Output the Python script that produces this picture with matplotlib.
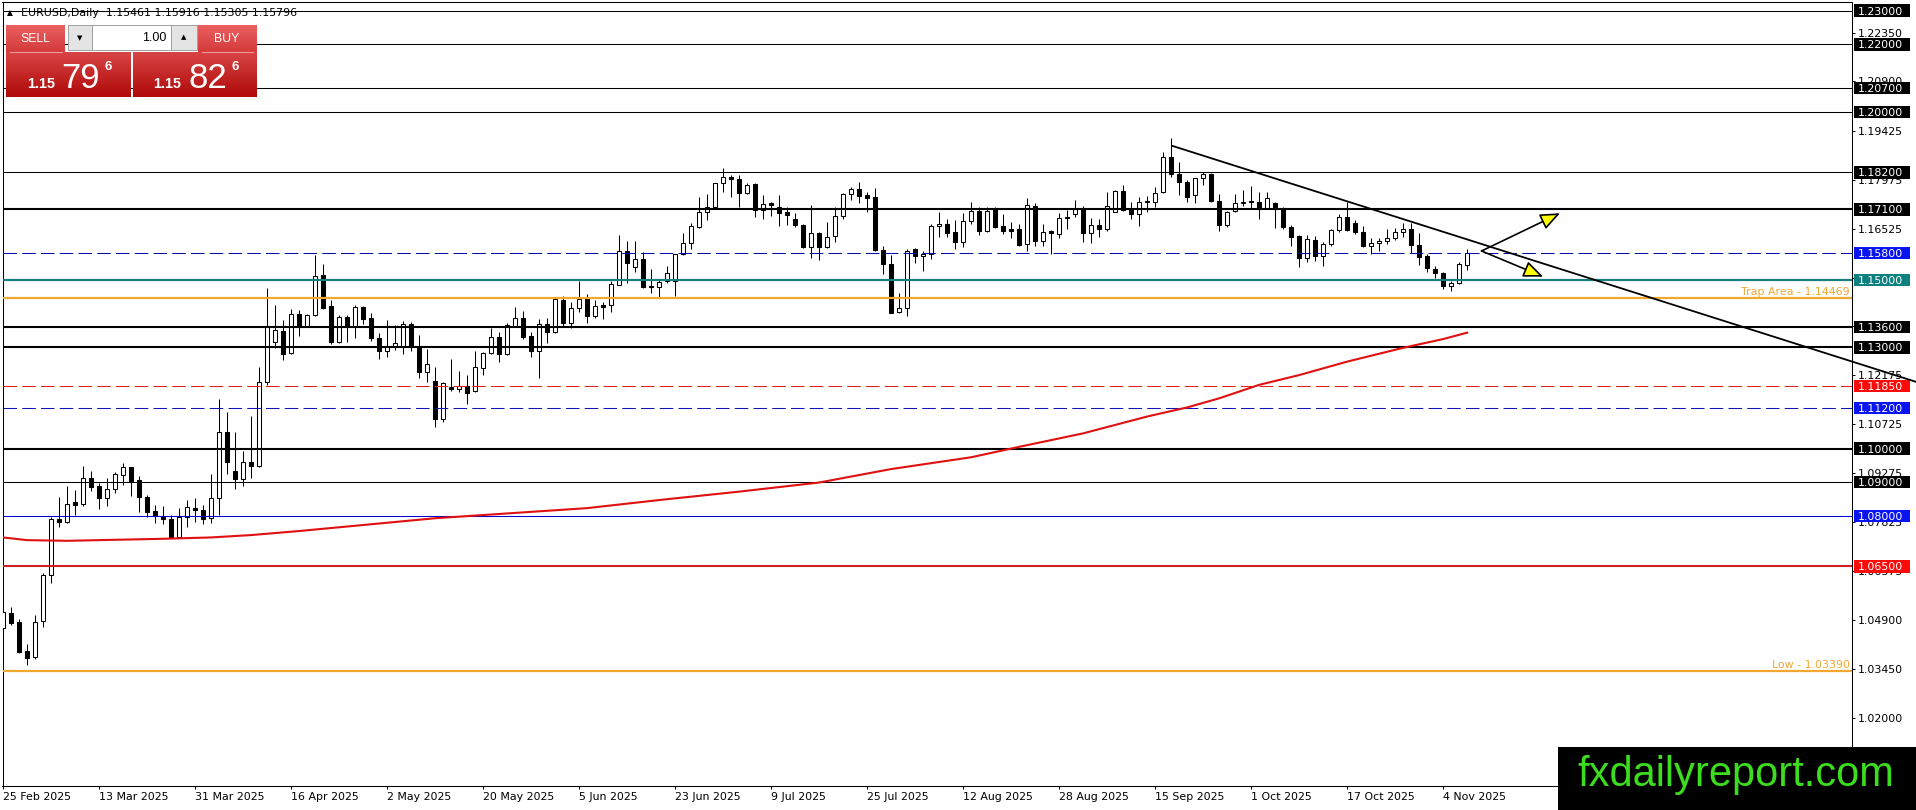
import numpy as np
import matplotlib
matplotlib.use("Agg")
import matplotlib.pyplot as plt
import matplotlib.transforms as mtransforms
from matplotlib.patches import Rectangle, FancyArrowPatch
from matplotlib.colors import LinearSegmentedColormap

# ---- data (EURUSD daily, 25 Feb 2025 .. 7 Nov 2025) ----
opens = [1.0466, 1.0511, 1.0484, 1.0399, 1.0380, 1.0488, 1.0625, 1.0792, 1.0783, 1.0841,
         1.0834, 1.0912, 1.0889, 1.0852, 1.0879, 1.0921, 1.0944, 1.0907, 1.0855, 1.0814,
         1.0798, 1.0790, 1.0736, 1.0796, 1.0823, 1.0816, 1.0793, 1.0852, 1.1050, 1.0933,
         1.0911, 1.0960, 1.0948, 1.1199, 1.1317, 1.1349, 1.1283, 1.1398, 1.1365, 1.1396,
         1.1515, 1.1423, 1.1317, 1.1390, 1.1365, 1.1420, 1.1387, 1.1327, 1.1291, 1.1300,
         1.1300, 1.1369, 1.1300, 1.1226, 1.1200, 1.1087, 1.1184, 1.1176, 1.1187, 1.1171,
         1.1238, 1.1283, 1.1330, 1.1280, 1.1365, 1.1387, 1.1334, 1.1291, 1.1369, 1.1345,
         1.1441, 1.1372, 1.1416, 1.1446, 1.1392, 1.1425, 1.1426, 1.1486, 1.1587, 1.1540,
         1.1563, 1.1483, 1.1479, 1.1496, 1.1496, 1.1578, 1.1609, 1.1659, 1.1701, 1.1718,
         1.1787, 1.1805, 1.1799, 1.1758, 1.1785, 1.1708, 1.1728, 1.1718, 1.1703, 1.1682,
         1.1664, 1.1599, 1.1639, 1.1597, 1.1632, 1.1691, 1.1755, 1.1770, 1.1753, 1.1748,
         1.1590, 1.1547, 1.1404, 1.1416, 1.1592, 1.1572, 1.1577, 1.1661, 1.1667, 1.1642,
         1.1614, 1.1676, 1.1705, 1.1646, 1.1713, 1.1661, 1.1651, 1.1651, 1.1606, 1.1721,
         1.1616, 1.1646, 1.1636, 1.1686, 1.1695, 1.1713, 1.1639, 1.1664, 1.1651, 1.1703,
         1.1765, 1.1711, 1.1695, 1.1733, 1.1731, 1.1761, 1.1867, 1.1814, 1.1790, 1.1753,
         1.1802, 1.1814, 1.1736, 1.1664, 1.1705, 1.1728, 1.1735, 1.1731, 1.1715, 1.1728,
         1.1713, 1.1659, 1.1631, 1.1565, 1.1619, 1.1572, 1.1606, 1.1649, 1.1687, 1.1669,
         1.1642, 1.1601, 1.1609, 1.1617, 1.1626, 1.1644, 1.1652, 1.1604, 1.1572, 1.1532,
         1.1520, 1.1483, 1.1490, 1.15461]
highs = [1.0521, 1.0529, 1.0493, 1.0419, 1.0506, 1.0630, 1.0798, 1.0857, 1.0889, 1.0877,
         1.0948, 1.0934, 1.0897, 1.0912, 1.0931, 1.0958, 1.0946, 1.0917, 1.0862, 1.0832,
         1.0829, 1.0803, 1.0823, 1.0847, 1.0852, 1.0831, 1.0924, 1.1146, 1.1108, 1.1050,
         1.0993, 1.1098, 1.1243, 1.1476, 1.1426, 1.1382, 1.1413, 1.1411, 1.1398, 1.1575,
         1.1547, 1.1440, 1.1396, 1.1396, 1.1426, 1.1424, 1.1401, 1.1342, 1.1382, 1.1367,
         1.1379, 1.1377, 1.1337, 1.1295, 1.1243, 1.1198, 1.1266, 1.1230, 1.1218, 1.1290,
         1.1286, 1.1359, 1.1345, 1.1372, 1.1421, 1.1408, 1.1347, 1.1385, 1.1387, 1.1451,
         1.1454, 1.1434, 1.1497, 1.1458, 1.1441, 1.1436, 1.1497, 1.1634, 1.1617, 1.1617,
         1.1583, 1.1533, 1.1501, 1.1543, 1.1578, 1.1641, 1.1669, 1.1748, 1.1756, 1.1789,
         1.1832, 1.1812, 1.1812, 1.1787, 1.1789, 1.1753, 1.1733, 1.1753, 1.1718, 1.1698,
         1.1667, 1.1723, 1.1644, 1.1674, 1.1716, 1.1760, 1.1776, 1.1790, 1.1763, 1.1773,
         1.1601, 1.1575, 1.1461, 1.1592, 1.1596, 1.1587, 1.1666, 1.1701, 1.1681, 1.1679,
         1.1698, 1.1731, 1.1718, 1.1718, 1.1718, 1.1695, 1.1674, 1.1666, 1.1743, 1.1728,
         1.1666, 1.1649, 1.1698, 1.1708, 1.1738, 1.1721, 1.1683, 1.1682, 1.1761, 1.1768,
         1.1782, 1.1733, 1.1748, 1.1751, 1.1777, 1.1880, 1.1921, 1.1850, 1.1797, 1.1804,
         1.1820, 1.1817, 1.1755, 1.1705, 1.1755, 1.1768, 1.1780, 1.1761, 1.1763, 1.1731,
         1.1718, 1.1664, 1.1634, 1.1634, 1.1631, 1.1614, 1.1652, 1.1696, 1.1731, 1.1679,
         1.1661, 1.1624, 1.1626, 1.1652, 1.1656, 1.1669, 1.1669, 1.1639, 1.1577, 1.1542,
         1.1523, 1.1498, 1.1553, 1.15916]
lows = [1.0456, 1.0476, 1.0394, 1.0357, 1.0375, 1.0471, 1.0602, 1.0766, 1.0780, 1.0803,
        1.0829, 1.0875, 1.0820, 1.0829, 1.0869, 1.0892, 1.0859, 1.0813, 1.0798, 1.0780,
        1.0776, 1.0733, 1.0734, 1.0766, 1.0783, 1.0776, 1.0780, 1.0803, 1.0924, 1.0879,
        1.0889, 1.0912, 1.0944, 1.1189, 1.1298, 1.1263, 1.1281, 1.1335, 1.1363, 1.1394,
        1.1415, 1.1309, 1.1312, 1.1315, 1.1329, 1.1369, 1.1319, 1.1266, 1.1273, 1.1293,
        1.1280, 1.1290, 1.1210, 1.1197, 1.1065, 1.1080, 1.1170, 1.1169, 1.1131, 1.1169,
        1.1218, 1.1280, 1.1256, 1.1278, 1.1362, 1.1325, 1.1273, 1.1210, 1.1312, 1.1343,
        1.1365, 1.1357, 1.1404, 1.1372, 1.1387, 1.1384, 1.1406, 1.1486, 1.1491, 1.1525,
        1.1476, 1.1461, 1.1451, 1.1492, 1.1454, 1.1575, 1.1591, 1.1654, 1.1679, 1.1716,
        1.1763, 1.1748, 1.1718, 1.1756, 1.1688, 1.1682, 1.1691, 1.1661, 1.1664, 1.1657,
        1.1594, 1.1565, 1.1560, 1.1594, 1.1614, 1.1681, 1.1738, 1.1730, 1.1703, 1.1585,
        1.1518, 1.1401, 1.1401, 1.1392, 1.1550, 1.1528, 1.1563, 1.1629, 1.1629, 1.1592,
        1.1599, 1.1666, 1.1634, 1.1644, 1.1654, 1.1636, 1.1624, 1.1602, 1.1585, 1.1602,
        1.1602, 1.1577, 1.1624, 1.1652, 1.1688, 1.1614, 1.1609, 1.1629, 1.1646, 1.1701,
        1.1705, 1.1682, 1.1662, 1.1701, 1.1718, 1.1758, 1.1807, 1.1753, 1.1731, 1.1728,
        1.1781, 1.1731, 1.1647, 1.1659, 1.1701, 1.1721, 1.1715, 1.1682, 1.1715, 1.1654,
        1.1652, 1.1600, 1.1540, 1.1553, 1.1557, 1.1543, 1.1602, 1.1642, 1.1645, 1.1637,
        1.1597, 1.1577, 1.1585, 1.1607, 1.1619, 1.1629, 1.1580, 1.1545, 1.1523, 1.1505,
        1.1473, 1.1468, 1.1488, 1.15305]
closes = [1.0516, 1.0483, 1.0397, 1.0377, 1.0486, 1.0625, 1.0790, 1.0783, 1.0834, 1.0833,
          1.0912, 1.0885, 1.0852, 1.0880, 1.0923, 1.0944, 1.0905, 1.0855, 1.0813, 1.0800,
          1.0790, 1.0736, 1.0796, 1.0827, 1.0817, 1.0790, 1.0852, 1.1050, 1.0961, 1.0911,
          1.0959, 1.0949, 1.1199, 1.1360, 1.1352, 1.1281, 1.1399, 1.1362, 1.1396, 1.1513,
          1.1418, 1.1317, 1.1390, 1.1362, 1.1420, 1.1385, 1.1327, 1.1291, 1.1300, 1.1312,
          1.1369, 1.1302, 1.1226, 1.1250, 1.1087, 1.1196, 1.1176, 1.1187, 1.1164, 1.1241,
          1.1283, 1.1330, 1.1280, 1.1367, 1.1387, 1.1332, 1.1291, 1.1369, 1.1347, 1.1444,
          1.1372, 1.1416, 1.1443, 1.1394, 1.1424, 1.1420, 1.1488, 1.1587, 1.1550, 1.1563,
          1.1479, 1.1479, 1.1494, 1.1522, 1.1578, 1.1609, 1.1661, 1.1701, 1.1718, 1.1787,
          1.1805, 1.1799, 1.1758, 1.1782, 1.1708, 1.1726, 1.1723, 1.1700, 1.1693, 1.1664,
          1.1597, 1.1639, 1.1597, 1.1627, 1.1691, 1.1756, 1.1770, 1.1750, 1.1743, 1.1588,
          1.1547, 1.1403, 1.1416, 1.1587, 1.1572, 1.1577, 1.1661, 1.1667, 1.1641, 1.1614,
          1.1676, 1.1705, 1.1646, 1.1705, 1.1659, 1.1646, 1.1647, 1.1604, 1.1723, 1.1616,
          1.1642, 1.1639, 1.1683, 1.1683, 1.1711, 1.1639, 1.1664, 1.1652, 1.1720, 1.1765,
          1.1708, 1.1695, 1.1733, 1.1736, 1.1760, 1.1867, 1.1814, 1.1790, 1.1746, 1.1802,
          1.1814, 1.1736, 1.1664, 1.1701, 1.1728, 1.1733, 1.1733, 1.1713, 1.1743, 1.1715,
          1.1657, 1.1629, 1.1565, 1.1621, 1.1573, 1.1606, 1.1649, 1.1687, 1.1649, 1.1642,
          1.1601, 1.1609, 1.1617, 1.1626, 1.1644, 1.1652, 1.1603, 1.1570, 1.1537, 1.1520,
          1.1483, 1.1491, 1.1547, 1.15796]

# moving average (red), read at a few bars
ma_bars = [0, 3, 8, 20, 26, 31, 37, 54, 73, 82, 92, 102, 111, 121, 127, 135, 143, 148,
           152, 157, 162, 168, 175, 180, 183]
ma_vals = [1.0736, 1.0728, 1.0726, 1.0732, 1.0736, 1.0743, 1.0755, 1.0793, 1.0823, 1.0847,
           1.0872, 1.0899, 1.0939, 1.0974, 1.1005, 1.1045, 1.1095, 1.1122, 1.1149, 1.1189,
           1.1218, 1.1258, 1.1299, 1.1325, 1.1344]

date_labels = ["25 Feb 2025", "13 Mar 2025", "31 Mar 2025", "16 Apr 2025", "2 May 2025",
               "20 May 2025", "5 Jun 2025", "23 Jun 2025", "9 Jul 2025", "25 Jul 2025",
               "12 Aug 2025", "28 Aug 2025", "15 Sep 2025", "1 Oct 2025", "17 Oct 2025",
               "4 Nov 2025"]

price_ticks = [1.2235, 1.209, 1.19425, 1.17975, 1.16525, 1.15075, 1.13625, 1.12175,
               1.10725, 1.09275, 1.07825, 1.06375, 1.049, 1.0345, 1.02]

levels = [1.23, 1.22, 1.207, 1.20, 1.182, 1.171, 1.158, 1.15, 1.136, 1.13,
          1.1185, 1.112, 1.10, 1.09, 1.08, 1.065]
level_colors = ["black", "black", "black", "black", "black", "black", "#0a0aa8", "#1a7f7f",
                "black", "black", "#e02020", "#1414b4", "black", "black", "#0000d0", "#cc2020"]
level_widths = [0.75, 0.75, 0.75, 0.75, 0.75, 1.5, 0.75, 1.6, 1.5, 1.5,
                0.75, 0.75, 1.5, 0.75, 0.75, 1.5]
level_dashed = [False, False, False, False, False, False, True, False, False, False,
                True, True, False, False, False, False]
label_bg = ["black", "black", "black", "black", "black", "black", "#0a14f0", "#0f8080",
            "black", "black", "#ff0a0a", "#0a14f0", "black", "black", "#0a14f0", "#ff0a0a"]

trap_level = 1.14469
low_level = 1.0339

trend_x = [146.1, 239.1]
trend_y = [1.1899, 1.1198]

arrow_start = (184.8, 1.15865)
arrow_up_end = (194.6, 1.16985)
arrow_down_end = (192.5, 1.15102)

header = "EURUSD,Daily  1.15461 1.15916 1.15305 1.15796"

# ---- figure ----
W, H = 1916, 810
fig = plt.figure(figsize=(W / 100, H / 100), dpi=100)
fig.patch.set_facecolor("white")

ax_l, ax_r, ax_t, ax_b = 2.5, 1852, 2.5, 786
ax = fig.add_axes([ax_l / W, (H - ax_b) / H, (ax_r - ax_l) / W, (ax_b - ax_t) / H])
ax.set_xlim(-0.06, 231.1)
ax.set_ylim(0.9998, 1.23243)


def px2ax(px):
    return (px - ax_l) / (ax_r - ax_l)


tr = mtransforms.blended_transform_factory(ax.transAxes, ax.transData)

# candles
o = np.array(opens)
h = np.array(highs)
l = np.array(lows)
c = np.array(closes)
xs = np.arange(len(o))
body_lo = np.minimum(o, c)
body_h = np.maximum(np.abs(c - o), 0.00012)
fills = np.where(c >= o, "white", "black")
ax.vlines(xs, l, h, color="black", lw=0.75, zorder=3)
ax.bar(xs, body_h, bottom=body_lo, width=0.55, color=fills, edgecolor="black",
       linewidth=0.75, zorder=4)

# horizontal levels
for lv, col, lw, dsh in zip(levels, level_colors, level_widths, level_dashed):
    line = ax.axhline(lv, color=col, lw=lw, zorder=5)
    if dsh:
        line.set_dashes((13, 5))

ax.axhline(trap_level, color="#f0a830", lw=1.6, zorder=5)
ax.axhline(low_level, color="#f0a830", lw=1.6, zorder=5)
ax.text(px2ax(1850), trap_level + 0.0004, "Trap Area - 1.14469", transform=tr,
        color="#f0a830", fontsize=7.9, ha="right", va="bottom", zorder=6)
ax.text(px2ax(1850), low_level + 0.0004, "Low - 1.03390", transform=tr,
        color="#f0a830", fontsize=7.9, ha="right", va="bottom", zorder=6)

# moving average
ax.plot(ma_bars, ma_vals, color="#e01010", lw=1.5, zorder=5, solid_joinstyle="round")

# trend line and arrows
ax.plot(trend_x, trend_y, color="black", lw=1.3, zorder=8, clip_on=False)
for end in (arrow_up_end, arrow_down_end):
    ax.add_patch(FancyArrowPatch(arrow_start, end,
                                 arrowstyle="-|>,head_length=0.6,head_width=0.25",
                                 mutation_scale=20, facecolor="#ffff00",
                                 edgecolor="black", lw=1.2, shrinkA=0, shrinkB=0,
                                 zorder=8))

# axes look
for sp in ax.spines.values():
    sp.set_linewidth(0.75)
    sp.set_color("black")
ax.set_xticks(range(0, 12 * len(date_labels), 12))
ax.set_xticklabels(date_labels)
for lab in ax.get_xticklabels():
    lab.set_ha("left")
ax.yaxis.tick_right()
ax.set_yticks(price_ticks)
ax.set_yticklabels([f"{v:.5f}" for v in price_ticks])
ax.tick_params(axis="both", length=2.5, width=0.7, pad=1.5, labelsize=7.9, colors="black")

# right-hand level labels
half = 6.2 / 3368
for lv, bg in zip(levels, label_bg):
    ax.add_patch(Rectangle((px2ax(1854), lv - half), px2ax(1910) - px2ax(1854), 2 * half,
                           transform=tr, facecolor=bg, edgecolor="none", clip_on=False,
                           zorder=6))
    ax.text(px2ax(1858), lv, f"{lv:.5f}", transform=tr, color="white", fontsize=7.9,
            ha="left", va="center_baseline", zorder=7, clip_on=False)

# ---- overlay in pixel coordinates: header, trade panel, watermark ----
ov = fig.add_axes([0, 0, 1, 1], zorder=10)
ov.patch.set_alpha(0)
ov.axis("off")

ov.text(7, 12.5, "\u25B2", fontsize=5.5, va="center", ha="left")
ov.text(21, 12.5, header, fontsize=7.9, va="center", ha="left")

btn_cmap = LinearSegmentedColormap.from_list("btn", ["#ea6060", "#d43a3a"])
box_cmap = LinearSegmentedColormap.from_list("box", ["#d84444", "#b00a0a"])
grad = np.linspace(0, 1, 64).reshape(-1, 1)


def grad_box(x0, x1, y0, y1, cmap):
    ov.imshow(grad, extent=(x0, x1, y1, y0), cmap=cmap, aspect="auto",
              interpolation="bilinear", zorder=2)


grad_box(6, 65, 25, 52, btn_cmap)
grad_box(198, 257, 25, 52, btn_cmap)
grad_box(6, 131, 52, 97, box_cmap)
grad_box(133, 257, 52, 97, box_cmap)
ov.plot([10, 62], [52, 52], color="#f29a9a", lw=0.8, zorder=3)
ov.plot([202, 253], [52, 52], color="#f29a9a", lw=0.8, zorder=3)
ov.add_patch(Rectangle((68, 25), 24, 25, facecolor="#e4e4e4", edgecolor="#a0a0a0", lw=0.7, zorder=2))
ov.add_patch(Rectangle((92, 25), 79, 25, facecolor="white", edgecolor="#a0a0a0", lw=0.7, zorder=2))
ov.add_patch(Rectangle((171, 25), 26, 25, facecolor="#e4e4e4", edgecolor="#a0a0a0", lw=0.7, zorder=2))
ov.text(80, 38, "\u25BC", fontsize=5, ha="center", va="center", zorder=4)
ov.text(184, 37, "\u25B2", fontsize=5, ha="center", va="center", zorder=4)
ov.text(166, 38, "1.00", fontsize=9, ha="right", va="center", family="Liberation Sans", zorder=4)
ov.text(35.5, 39, "SELL", fontsize=8.8, ha="center", va="center", color="white",
        family="Liberation Sans", zorder=4)
ov.text(227, 39, "BUY", fontsize=8.8, ha="center", va="center", color="white",
        family="Liberation Sans", zorder=4)
for x_small, x_big, x_sup, big in ((26.7, 61.7, 105, "79"), (152.7, 188.3, 231.7, "82")):
    ov.text(x_small, 88.3, "1.15", fontsize=10.4, fontweight="bold", color="white",
            family="Liberation Sans", ha="left", va="baseline", zorder=4)
    ov.text(x_big, 88.3, big, fontsize=25, color="white", family="Liberation Sans",
            ha="left", va="baseline", zorder=4)
    ov.text(x_sup, 70, "6", fontsize=9.5, fontweight="bold", color="white",
            family="Liberation Sans", ha="left", va="baseline", zorder=4)

ov.add_patch(Rectangle((1558, 747), W - 1558, H - 747, facecolor="black", edgecolor="none", zorder=2))
ov.text(1736, 786, "fxdailyreport.com", fontsize=30, color="#3cdc1e", family="Liberation Sans",
        ha="center", va="baseline", zorder=3)

ov.set_xlim(0, W)
ov.set_ylim(H, 0)

fig.savefig("out.png", dpi=100)
